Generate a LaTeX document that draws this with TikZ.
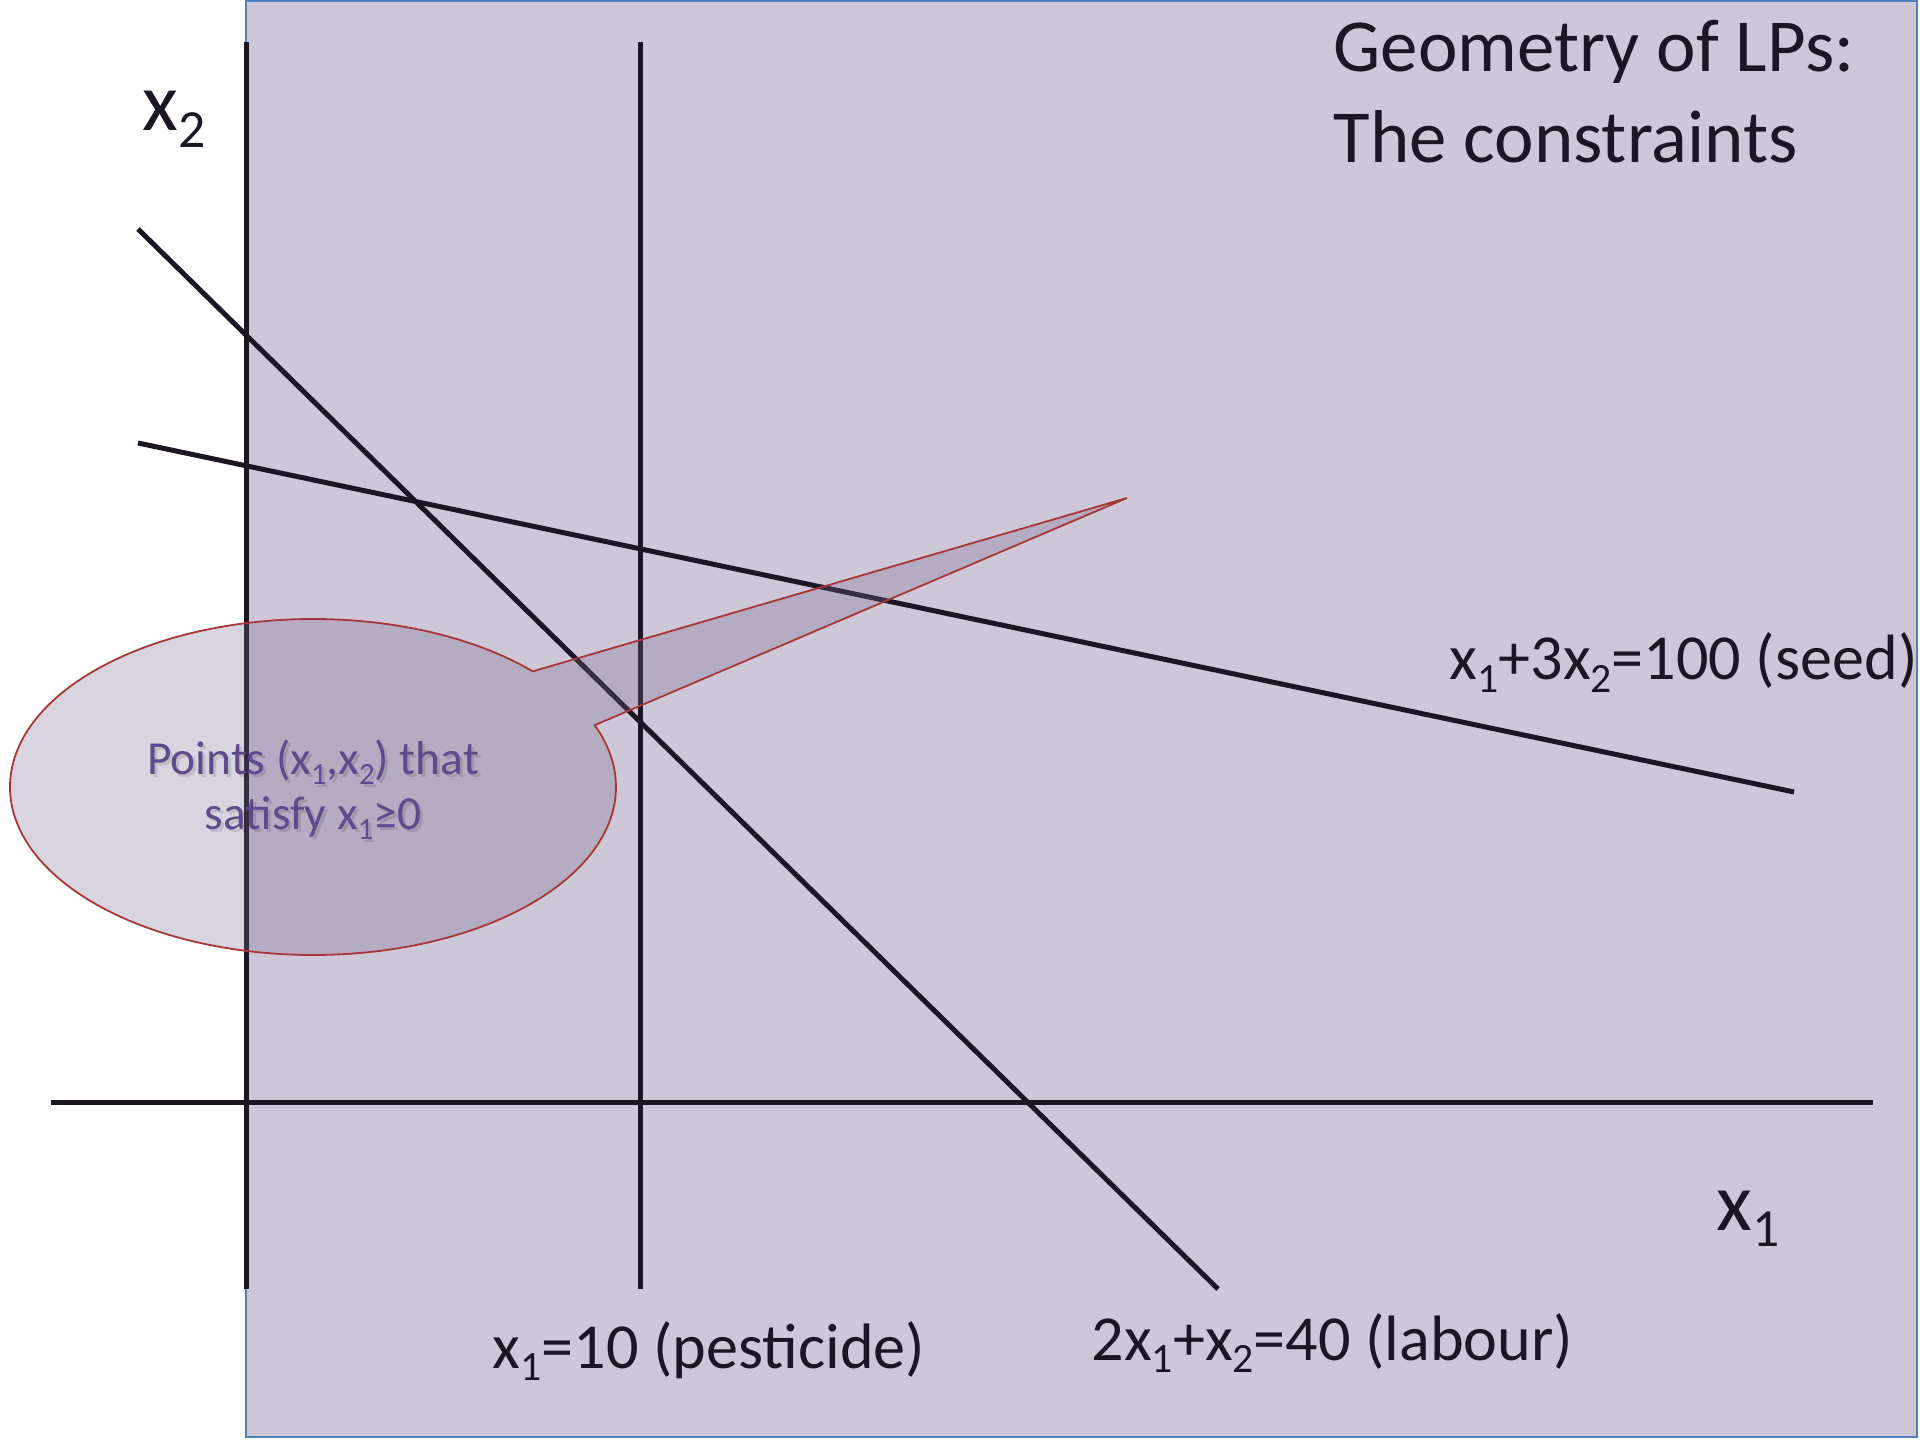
\documentclass[tikz,border=0pt]{standalone}
\usepackage{fontspec}
\setmainfont{Carlito}
\usetikzlibrary{calc}
\definecolor{panel}{RGB}{205,199,216}
\definecolor{panelborder}{RGB}{79,129,189}
\definecolor{ink}{RGB}{28,22,36}
\definecolor{callfill}{RGB}{119,105,144}
\definecolor{callborder}{RGB}{165,55,55}
\definecolor{calltext}{RGB}{95,75,139}
\newcommand{\lo}[1]{\raisebox{-0.2em}{\scalebox{0.65}{#1}}}
\begin{document}
\begin{tikzpicture}[x=0.1mm,y=-0.1mm,
  axisline/.style={draw=ink,line width=0.5mm},
  lbl/.style={anchor=base west,inner sep=0pt,text=ink},
  bigfont/.style={font=\fontsize{23.5}{29}\selectfont},
  midfont/.style={font=\fontsize{18.25}{22}\selectfont},
  titlefont/.style={font=\fontsize{21.3}{25.9}\selectfont},
  callfont/.style={font=\fontsize{13.5}{15.6}\selectfont},
  calltx/.style={callfont,inner sep=0pt,anchor=base,text=calltext},
  callsh/.style={callfont,inner sep=0pt,anchor=base,text=black,opacity=0.12}]
\useasboundingbox (0,0) rectangle (1920,1440);
% background panel
\draw[fill=panel,draw=panelborder,line width=0.2mm] (246,1) rectangle (1917,1437);
% coordinates of line ends
\coordinate (v0t) at (246,42);   \coordinate (v0b) at (246,1289);
\coordinate (v10t) at (640,42);  \coordinate (v10b) at (640,1289);
\coordinate (hl) at (51,1103);   \coordinate (hr) at (1873,1103);
\coordinate (labs) at (138,229); \coordinate (labe) at (1218,1289);
\coordinate (seeds) at (138,443); \coordinate (seede) at (1794,792);
\draw[axisline] (v0t) -- (v0b);
\draw[axisline] (v10t) -- (v10b);
\draw[axisline] (hl) -- (hr);
\draw[axisline] (labs) -- (labe);
\draw[axisline] (seeds) -- (seede);
% title
\node[lbl,titlefont] (t1) at (1333,72) {Geometry of LPs:};
\node[lbl,titlefont] (t2) at (1333,163) {The constraints};
% axis labels
\node[lbl,bigfont] (x2lab) at (142,131) {x\lo{2}};
\node[lbl,bigfont] (x1lab) at (1716,1230) {x\lo{1}};
% constraint labels
\node[lbl,midfont] (seedlab) at (1449,680) {x\lo{1}+3x\lo{2}=100 (seed)};
\node[lbl,midfont] (pestlab) at (492,1368) {x\lo{1}=10 (pesticide)};
\node[lbl,midfont] (lablab) at (1091,1360) {2x\lo{1}+x\lo{2}=40 (labour)};
% callout
\coordinate (cc) at (313,787);
\coordinate (tip) at (1127,498);
\path[fill=callfill,fill opacity=0.28,draw=callborder,line width=0.18mm]
  ($(cc)+(-21.6:303 and 168)$) -- (tip) -- ($(cc)+(-43.5:303 and 168)$)
  arc[start angle=-43.5,end angle=-381.6,x radius=303,y radius=168] -- cycle;
\node[callsh] (sh1) at (316,778) {Points (x\lo{1},x\lo{2}) that};
\node[callsh] (sh2) at (316,833) {satisfy x\lo{1}≥0};
\node[calltx] (c1) at (313,775) {Points (x\lo{1},x\lo{2}) that};
\node[calltx] (c2) at (313,830) {satisfy x\lo{1}≥0};
\end{tikzpicture}
\end{document}
